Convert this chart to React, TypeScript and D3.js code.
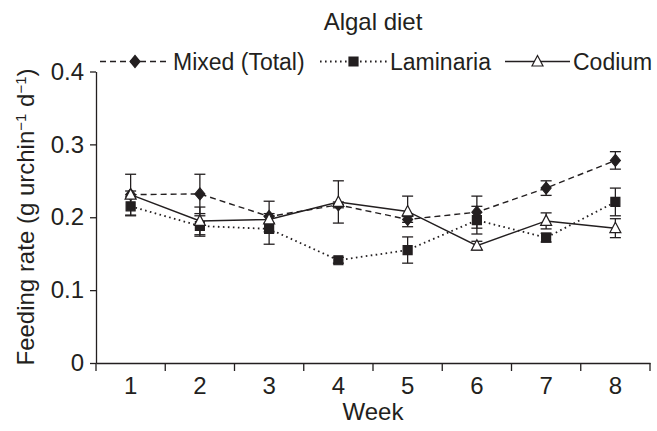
import * as d3 from "d3";
import React, { useEffect, useRef } from "react";

const weeks = [1, 2, 3, 4, 5, 6, 7, 8];
const mixedMean = [0.231, 0.232, 0.201, 0.217, 0.197, 0.207, 0.24, 0.278];
const mixedErr = [0.005, 0.027, 0.021, 0.004, 0.004, 0.022, 0.01, 0.012];
const laminariaMean = [0.215, 0.188, 0.184, 0.141, 0.155, 0.196, 0.172, 0.221];
const laminariaErr = [0.013, 0.014, 0.021, 0.004, 0.018, 0.019, 0.006, 0.019];
const codiumMean = [0.231, 0.195, 0.197, 0.221, 0.208, 0.161, 0.195, 0.185];
const codiumErr = [0.028, 0.019, 0.005, 0.029, 0.021, 0.006, 0.011, 0.013];
const yTicks = [0, 0.1, 0.2, 0.3, 0.4];

const W = 657;
const H = 431;
const FONT = "'Liberation Sans', Arial, Helvetica, sans-serif";
const INK = "#231f20";

type Marker = "diamond" | "square" | "triangle";

interface ISeries {
  name: string;
  mean: number[];
  err: number[];
  dash: string | null;
  marker: Marker;
  width: number;
}

const series: ISeries[] = [
  { name: "Laminaria", mean: laminariaMean, err: laminariaErr, dash: "1.6,3.4", marker: "square", width: 1.8 },
  { name: "Mixed (Total)", mean: mixedMean, err: mixedErr, dash: "6,4", marker: "diamond", width: 1.4 },
  { name: "Codium", mean: codiumMean, err: codiumErr, dash: null, marker: "triangle", width: 1.5 },
];

const markerPath = (m: Marker) => {
  if (m === "diamond") return "M0,-6L5,0L0,6L-5,0Z";
  if (m === "square") return "M-4.5,-4.5H4.5V4.5H-4.5Z";
  return "M0,-6L5.5,4.5H-5.5Z";
};

const App: React.FC = () => {
  const svgRef = useRef<SVGSVGElement>(null);

  useEffect(() => {
    const svg = d3.select(svgRef.current);
    svg.selectAll("*").remove();

    const x = d3.scaleBand<number>().domain(weeks).range([96, 650]);
    const y = d3.scaleLinear().domain([0, 0.4]).range([363, 71.5]);
    const cx = (w: number) => (x(w) ?? 0) + x.bandwidth() / 2;

    // y axis
    svg
      .append("g")
      .attr("transform", "translate(96,0)")
      .call(
        d3
          .axisLeft(y)
          .tickValues(yTicks)
          .tickSize(6)
          .tickSizeOuter(0)
          .tickPadding(6)
          .tickFormat((d) => (+d === 0 ? "0" : d3.format(".1f")(+d)))
      )
      .call((g) => g.selectAll("path,line").attr("stroke", INK).attr("stroke-width", 1.3))
      .call((g) =>
        g.selectAll("text").attr("fill", INK).style("font-family", FONT).style("font-size", "24px")
      );

    // x axis: labels centred in each band, ticks on band edges
    const xg = svg.append("g").attr("transform", "translate(0,363)");
    xg.call(d3.axisBottom(x).tickSize(0).tickPadding(14))
      .call((g) => g.select(".domain").attr("stroke", INK).attr("stroke-width", 1.3))
      .call((g) =>
        g.selectAll("text").attr("fill", INK).style("font-family", FONT).style("font-size", "24px")
      );
    xg.selectAll("line.edge")
      .data([...weeks.map((w) => x(w) ?? 0), 650])
      .join("line")
      .attr("class", "edge")
      .attr("x1", (d) => d)
      .attr("x2", (d) => d)
      .attr("y1", 0)
      .attr("y2", 8)
      .attr("stroke", INK)
      .attr("stroke-width", 1.3);

    const plot = svg.append("g");

    // error bars
    series.forEach((s) => {
      const g = plot.append("g").attr("stroke", INK).attr("stroke-width", 1.3);
      weeks.forEach((w, i) => {
        const px = cx(w);
        const top = y(s.mean[i] + s.err[i]);
        const bot = y(s.mean[i] - s.err[i]);
        g.append("line").attr("x1", px).attr("x2", px).attr("y1", top).attr("y2", bot);
        g.append("line").attr("x1", px - 5.5).attr("x2", px + 5.5).attr("y1", top).attr("y2", top);
        g.append("line").attr("x1", px - 5.5).attr("x2", px + 5.5).attr("y1", bot).attr("y2", bot);
      });
    });

    // lines
    const line = d3
      .line<number>()
      .x((_, i) => cx(weeks[i]))
      .y((d) => y(d));
    series.forEach((s) => {
      plot
        .append("path")
        .attr("d", line(s.mean))
        .attr("fill", "none")
        .attr("stroke", INK)
        .attr("stroke-width", s.width)
        .attr("stroke-dasharray", s.dash);
    });

    // markers
    series.forEach((s) => {
      plot
        .append("g")
        .selectAll("path")
        .data(s.mean)
        .join("path")
        .attr("transform", (d, i) => `translate(${cx(weeks[i])},${y(d)})`)
        .attr("d", markerPath(s.marker))
        .attr("fill", s.marker === "triangle" ? "#fff" : INK)
        .attr("stroke", INK)
        .attr("stroke-width", 1.2);
    });

    // legend
    const legendItems = [
      { s: series[1], x0: 100, x1: 170 },
      { s: series[0], x0: 320, x1: 387 },
      { s: series[2], x0: 505, x1: 570 },
    ];
    const lg = svg.append("g").attr("transform", "translate(0,61.5)");
    legendItems.forEach(({ s, x0, x1 }) => {
      lg.append("line")
        .attr("x1", x0)
        .attr("x2", x1)
        .attr("stroke", INK)
        .attr("stroke-width", s.width)
        .attr("stroke-dasharray", s.dash);
      lg.append("path")
        .attr("transform", `translate(${(x0 + x1) / 2},0)`)
        .attr("d", markerPath(s.marker))
        .attr("fill", s.marker === "triangle" ? "#fff" : INK)
        .attr("stroke", INK)
        .attr("stroke-width", 1.2);
      lg.append("text")
        .attr("x", x1 + 3)
        .attr("y", 8)
        .attr("fill", INK)
        .style("font-family", FONT)
        .style("font-size", "23px")
        .text(s.name);
    });

    // title
    svg
      .append("text")
      .attr("x", 373)
      .attr("y", 30)
      .attr("text-anchor", "middle")
      .attr("fill", INK)
      .style("font-family", FONT)
      .style("font-size", "24px")
      .text("Algal diet");

    // axis titles
    svg
      .append("text")
      .attr("x", 373)
      .attr("y", 420)
      .attr("text-anchor", "middle")
      .attr("fill", INK)
      .style("font-family", FONT)
      .style("font-size", "24px")
      .text("Week");

    const yl = svg
      .append("text")
      .attr("transform", "translate(34,217) rotate(-90)")
      .attr("text-anchor", "middle")
      .attr("fill", INK)
      .style("font-family", FONT)
      .style("font-size", "24px");
    yl.append("tspan").text("Feeding rate (g urchin");
    yl.append("tspan").attr("baseline-shift", "super").style("font-size", "15px").text("\u22121");
    yl.append("tspan").text(" d");
    yl.append("tspan").attr("baseline-shift", "super").style("font-size", "15px").text("\u22121");
    yl.append("tspan").text(")");
  }, []);

  return (
    <svg
      ref={svgRef}
      width={W}
      height={H}
      style={{ position: "absolute", left: 0, top: 0, background: "#fff" }}
    />
  );
};

export default App;
